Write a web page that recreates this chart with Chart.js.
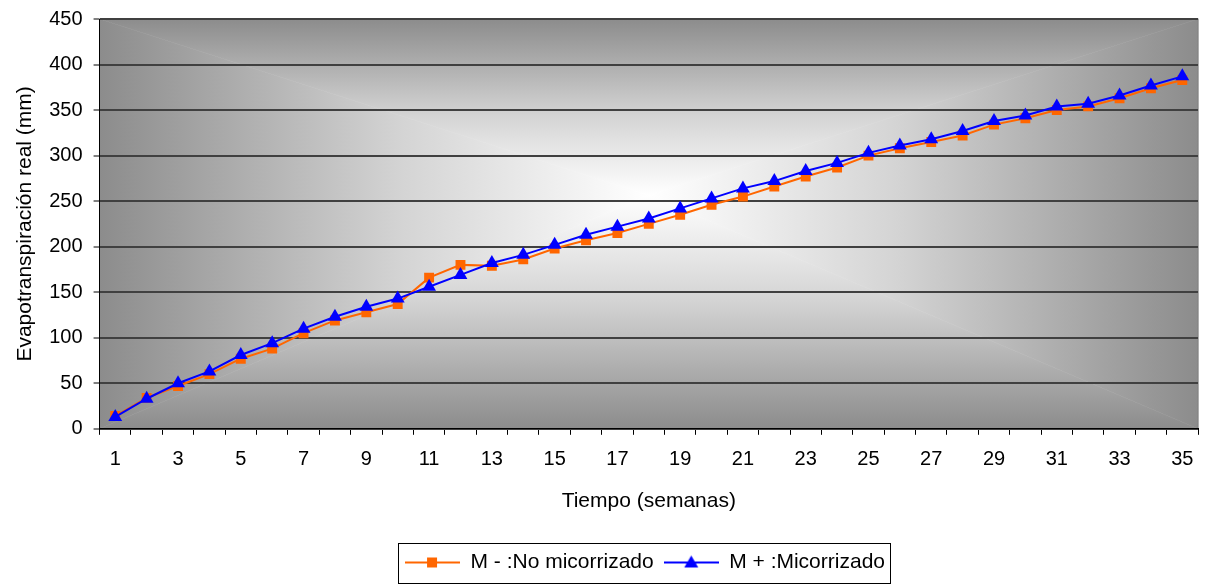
<!DOCTYPE html>
<html>
<head>
<meta charset="utf-8">
<script src="https://cdn.jsdelivr.net/npm/chart.js@4"></script>
<style>
  html, body { margin: 0; padding: 0; background: #fff; }
  #wrap { width: 1206px; height: 586px; }
</style>
</head>
<body>
<div id="wrap"><canvas id="chart"></canvas></div>
<script>
// weeks 1..35
const semanas = [];
for (let i = 1; i <= 35; i++) semanas.push(String(i));

const noMicorrizado = [
  14, 34, 47, 60, 77, 88, 105, 119, 128, 137,
  166, 180, 179, 186, 198, 207, 215, 225, 235, 246,
  255, 266, 277, 287, 300, 308, 315, 322, 334, 341,
  350, 354, 363, 374, 383
];
const micorrizado = [
  13, 33, 50, 63, 81, 94, 110, 123, 134, 143,
  156, 169, 182, 191, 202, 213, 222, 231, 242, 253,
  264, 272, 283, 292, 303, 311, 318, 327, 338, 344,
  354, 357, 366, 377, 387
];

const FONT = '"Liberation Sans", Arial, sans-serif';

// small line+marker picture for the legend entries
function legendIcon(color, style) {
  const c = document.createElement('canvas');
  c.width = 55; c.height = 16;
  const ctx = c.getContext('2d');
  ctx.strokeStyle = color;
  ctx.lineWidth = 2;
  ctx.beginPath();
  ctx.moveTo(0, 8); ctx.lineTo(55, 8);
  ctx.stroke();
  ctx.fillStyle = color;
  if (style === 'rect') {
    ctx.fillRect(22, 3, 10, 10);
  } else {
    ctx.beginPath();
    ctx.moveTo(27.5, 1); ctx.lineTo(34.5, 13); ctx.lineTo(20.5, 13);
    ctx.closePath();
    ctx.fill();
  }
  return c;
}

// excel style "from center" grey gradient behind the plot
const plotBackground = {
  id: 'plotBackground',
  beforeDraw(chart) {
    const { ctx, chartArea: a } = chart;
    const cx = a.left + (a.right - a.left) * 0.50;
    const cy = a.top + (a.bottom - a.top) * 0.43;
    const tris = [
      [[a.left, a.top], [a.right, a.top], [0, a.top, 0, cy]],
      [[a.left, a.bottom], [a.right, a.bottom], [0, a.bottom, 0, cy]],
      [[a.left, a.top], [a.left, a.bottom], [a.left, 0, cx, 0]],
      [[a.right, a.top], [a.right, a.bottom], [a.right, 0, cx, 0]],
    ];
    ctx.save();
    tris.forEach(([p1, p2, g]) => {
      const grad = ctx.createLinearGradient(g[0], g[1], g[2], g[3]);
      grad.addColorStop(0, '#8c8c8c');
      grad.addColorStop(0.55, '#d4d4d4');
      grad.addColorStop(1, '#ffffff');
      ctx.fillStyle = grad;
      ctx.beginPath();
      ctx.moveTo(p1[0], p1[1]);
      ctx.lineTo(p2[0], p2[1]);
      ctx.lineTo(cx, cy);
      ctx.closePath();
      ctx.fill();
      // tiny overlap so the seams do not show
      ctx.strokeStyle = ctx.fillStyle;
      ctx.lineWidth = 0.6;
      ctx.stroke();
    });
    ctx.strokeStyle = '#808080';
    ctx.lineWidth = 1;
    ctx.strokeRect(a.left, a.top, a.right - a.left, a.bottom - a.top);
    ctx.restore();
  }
};

// legend sits a bit right of the page centre, in a frame
const legendFrame = {
  id: 'legendFrame',
  afterLayout(chart) {
    const lg = chart.legend;
    const d = 645 - (lg.left + lg.right) / 2;
    lg.left += d;
    lg.right += d;
  },
  afterDraw(chart) {
    const boxes = chart.legend.legendHitBoxes;
    if (!boxes || !boxes.length) return;
    const { ctx } = chart;
    const left = Math.min(...boxes.map(b => b.left)) - 7;
    const right = Math.max(...boxes.map(b => b.left + b.width)) + 5;
    const midY = boxes[0].top + boxes[0].height / 2;
    ctx.save();
    ctx.strokeStyle = '#000';
    ctx.lineWidth = 1;
    ctx.strokeRect(Math.round(left) + 0.5, Math.round(midY - 20) + 0.5, Math.round(right - left), 40);
    ctx.restore();
  }
};

new Chart(document.getElementById('chart'), {
  type: 'line',
  data: {
    labels: semanas,
    datasets: [
      {
        label: 'M - :No micorrizado',
        data: noMicorrizado,
        borderColor: '#ff6600',
        backgroundColor: '#ff6600',
        borderWidth: 2,
        pointStyle: 'rect',
        pointRadius: 7,
        pointBorderWidth: 0,
        tension: 0,
        order: 1,
        legendIcon: legendIcon('#ff6600', 'rect'),
      },
      {
        label: 'M + :Micorrizado',
        data: micorrizado,
        borderColor: '#0000ff',
        backgroundColor: '#0000ff',
        borderWidth: 2,
        pointStyle: 'triangle',
        pointRadius: 8,
        pointBorderWidth: 0,
        tension: 0,
        order: 0,
        legendIcon: legendIcon('#0000ff', 'triangle'),
      },
    ],
  },
  options: {
    responsive: true,
    maintainAspectRatio: false,
    animation: false,
    layout: { padding: { left: 4, right: -4, top: 19, bottom: 3 } },
    plugins: {
      tooltip: { enabled: false },
      legend: {
        position: 'bottom',
        labels: {
          usePointStyle: true,
          pointStyleWidth: 55,
          boxHeight: 16,
          padding: 10,
          color: '#000',
          font: { family: FONT, size: 21 },
          sort: (a, b) => a.datasetIndex - b.datasetIndex,
          generateLabels(chart) {
            return chart.data.datasets.map((ds, i) => ({
              text: ds.label,
              pointStyle: ds.legendIcon,
              fillStyle: ds.borderColor,
              strokeStyle: ds.borderColor,
              lineWidth: 0,
              fontColor: '#000',
              datasetIndex: i,
              hidden: false,
            }));
          },
        },
      },
    },
    scales: {
      x: {
        offset: true,
        afterFit(scale) {
          scale.paddingRight = 4;
        },
        grid: {
          offset: true,
          drawOnChartArea: false,
          drawTicks: true,
          tickLength: 6,
          color: '#000',
        },
        border: { color: '#000', width: 1 },
        ticks: {
          autoSkip: false,
          maxRotation: 0,
          padding: 13,
          color: '#000',
          font: { family: FONT, size: 20 },
          callback: (v, i) => (i % 2 === 0 ? semanas[i] : ''),
        },
        title: {
          display: true,
          text: 'Tiempo (semanas)',
          color: '#000',
          font: { family: FONT, size: 21 },
          padding: { top: 4, bottom: 28 },
        },
      },
      y: {
        min: 0,
        max: 450,
        afterFit(scale) {
          scale.paddingTop = 0;
        },
        grid: {
          color: '#404040',
          lineWidth: 2,
          tickLength: 6,
          tickColor: '#000',
          tickWidth: 1,
        },
        border: { color: '#000', width: 1 },
        ticks: {
          stepSize: 50,
          padding: 11,
          color: '#000',
          font: { family: FONT, size: 20, lineHeight: 1 },
        },
        title: {
          display: true,
          text: 'Evapotranspiración real (mm)',
          color: '#000',
          font: { family: FONT, size: 21 },
          padding: { top: 9, bottom: 0 },
        },
      },
    },
  },
  plugins: [plotBackground, legendFrame],
});
</script>
</body>
</html>
